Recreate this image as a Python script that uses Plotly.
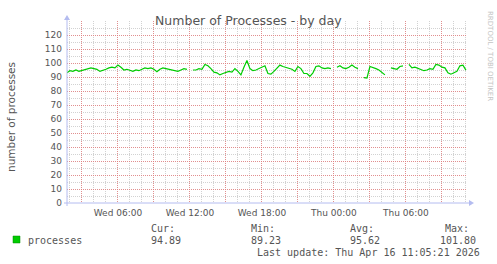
import datetime as dt
import plotly.graph_objects as go

# ---------------- data ----------------
start_time = dt.datetime(2026, 4, 15, 1, 45)
step_minutes = 15
processes = [
    93, 94.5, 94, 95, 94, 94.5, 95, 95.5, 96.5, 96,
    95.5, 94, 94.5, 95.5, 96.5, 97, 96.5, 98.5, 97, 95,
    95.5, 94.5, 94, 95, 94.5, 95.5, 96.5, 96, 96.5, 95.5,
    93.8, 95.5, 96.5, 96, 95.5, 94.5, 94.5, 94, 95, 96,
    95.5, None, 95, 95, 96, 95.5, 99, 98, 96, 93.5,
    93, 91.5, 92.5, 93, 94, 93.5, 96, 94, 91.5, 97,
    101.8, 96, 94.5, 95, 96, 97.5, 98, 92.5, 92, 94,
    96, 98.5, 97.5, 97, 96.5, 95.5, 94, 97.5, 96, 92.5,
    92.5, 90.5, 93, 97.5, 98, 96.5, 96, 96.5, 96, None,
    97, 98, 96.5, 96, 97, 98.5, 97, 96, None, 89.5,
    89.23, 97.5, 97, 96, 95, 93, 91.5, None, 96.5, 96,
    95.5, 97.5, 98, None, 99, 96.5, 97, 96, 95, 94.5,
    95, 96, 95.5, 99, 98.5, 97, 96.5, 93, 92, 93,
    94, 98, 98.5, 94.89,
]
times = [start_time + dt.timedelta(minutes=step_minutes * i) for i in range(len(processes))]

range_start = dt.datetime(2026, 4, 15, 1, 45, 21)
range_end = dt.datetime(2026, 4, 16, 11, 5, 21)

x_tick_vals = [dt.datetime(2026, 4, 15, 3) + dt.timedelta(hours=3 * k) for k in range(11)]
x_tick_text = ["", "Wed 06:00", "", "Wed 12:00", "", "Wed 18:00", "", "Thu 00:00", "", "Thu 06:00", ""]
y_tick_vals = list(range(0, 130, 10))

series_name = "processes"
stat_labels = ["Cur:", "Min:", "Avg:", "Max:"]
stat_values = ["94.89", "89.23", "95.62", "101.80"]
last_update = "Last update: Thu Apr 16 11:05:21 2026"

# ---------------- layout helpers ----------------
W, H = 497, 264
PL, PR, PT, PB = 67, 467, 21, 203


def px(x):
    return (x - PL) / (PR - PL)


def py(y):
    return (PB - y) / (PB - PT)


GREEN = "#00CC00"
AXIS = "#b4bcf0"
MAJOR = "rgba(230,120,120,0.75)"
MINOR = "rgba(180,180,180,0.6)"
TXT = "#555555"
MONO = "DejaVu Sans Mono"
SANS = "DejaVu Sans"

fig = go.Figure()
fig.add_trace(go.Scatter(
    x=times, y=processes, mode="lines", name=series_name,
    line=dict(color=GREEN, width=1.2), connectgaps=False, hoverinfo="skip",
))

fig.update_layout(
    width=W, height=H,
    margin=dict(l=PL, r=W - PR, t=PT, b=H - PB, pad=0),
    paper_bgcolor="white", plot_bgcolor="white",
    showlegend=False,
    font=dict(family=SANS, size=9, color=TXT),
)

fig.update_xaxes(
    range=[range_start, range_end],
    tickmode="array", tickvals=x_tick_vals, ticktext=x_tick_text,
    showgrid=True, gridcolor=MAJOR, gridwidth=1, griddash="1px,1px",
    minor=dict(dtick=3600000, showgrid=True, gridcolor=MINOR, gridwidth=1, griddash="1px,1px"),
    showline=False, zeroline=False, ticks="",
    tickfont=dict(family=SANS, size=9, color=TXT),
    ticklabelstandoff=3,
)
fig.update_yaxes(
    range=[0, 130],
    tickmode="array", tickvals=y_tick_vals,
    showgrid=True, gridcolor=MAJOR, gridwidth=1, griddash="1px,1px",
    minor=dict(dtick=5, showgrid=True, gridcolor=MINOR, gridwidth=1, griddash="1px,1px"),
    showline=False, zeroline=False, ticks="",
    tickfont=dict(family=SANS, size=9, color=TXT),
    ticklabelstandoff=4,
)

shapes = [
    # axes
    dict(type="line", xref="paper", yref="paper", x0=px(PL - 3), x1=px(PR + 3), y0=0, y1=0,
         line=dict(color=AXIS, width=1)),
    dict(type="line", xref="paper", yref="paper", x0=0, x1=0, y0=py(PB + 3), y1=py(PT - 1),
         line=dict(color=AXIS, width=1)),
    # arrows
    dict(type="path", xref="paper", yref="paper",
         path=f"M {px(PR + 2)} {py(PB - 3)} L {px(PR + 7)} {py(PB)} L {px(PR + 2)} {py(PB + 3)} Z",
         fillcolor=AXIS, line=dict(width=0)),
    dict(type="path", xref="paper", yref="paper",
         path=f"M {px(PL - 3)} {py(PT - 1)} L {px(PL)} {py(PT - 6)} L {px(PL + 3)} {py(PT - 1)} Z",
         fillcolor=AXIS, line=dict(width=0)),
    # legend swatch
    dict(type="rect", xref="paper", yref="paper", x0=px(13), x1=px(20), y0=py(243), y1=py(236),
         fillcolor=GREEN, line=dict(color="#008800", width=0.5)),
]
fig.update_layout(shapes=shapes)

ann = []


def text(x, y, s, size=10, family=MONO, color=TXT, xanchor="left", angle=0):
    ann.append(dict(x=px(x), y=py(y), xref="paper", yref="paper", text=s, showarrow=False,
                    xanchor=xanchor, yanchor="middle", textangle=angle,
                    font=dict(family=family, size=size, color=color)))


text(248, 20, "Number of Processes - by day", size=12.5, family=SANS, color="#555555", xanchor="center")
text(11, 117, "number of processes", size=10.5, family=SANS, xanchor="center", angle=-90)
text(490, 56, "RRDTOOL / TOBI OETIKER", size=7, family=SANS, color="#c4c4c4", xanchor="center", angle=90)
text(26, 240, series_name)
stat_x = [149, 249, 348]
for i in range(3):
    text(stat_x[i], 228, stat_labels[i])
    text(stat_x[i], 240, stat_values[i])
text(471, 228, stat_labels[3], xanchor="right")
text(478, 240, stat_values[3], xanchor="right")
text(482, 252, last_update, xanchor="right")
fig.update_layout(annotations=ann)

fig.write_html("out.html")
